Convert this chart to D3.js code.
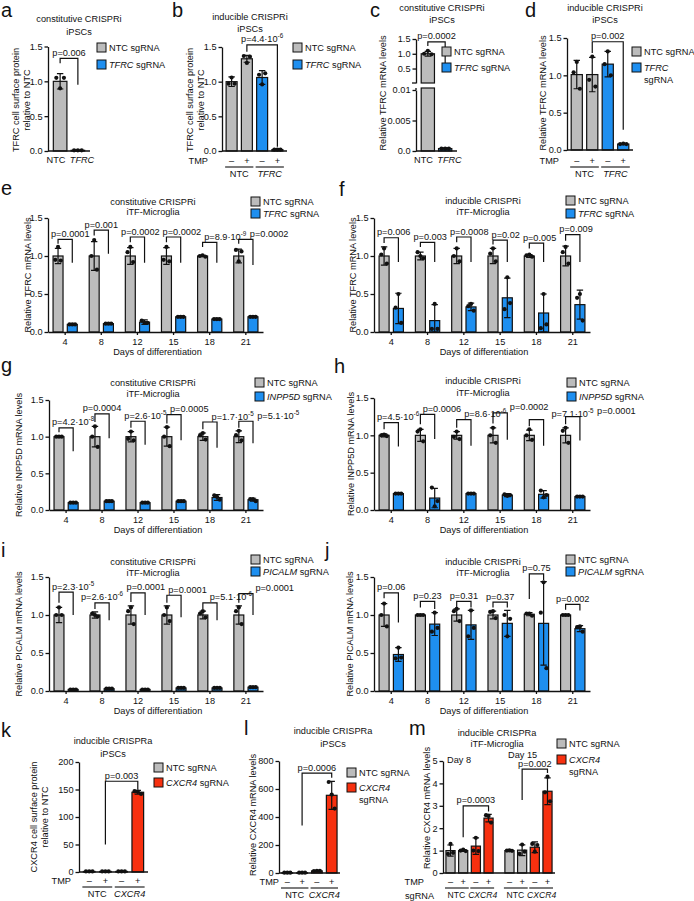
<!DOCTYPE html>
<html><head><meta charset="utf-8">
<script src="https://cdn.jsdelivr.net/npm/d3@7"></script>
<style>body{margin:0;background:#fff}</style>
</head><body>
<script>
// ================= DATA =================
// a: constitutive CRISPRi iPSCs, TFRC surface protein
const aCats = ["NTC", "TFRC"];
const aMean = [1.0, 0.01];
const aSD = [0.11, 0.004];
const aPts = [[1.05, 0.9, 1.05], [0.01, 0.01, 0.01]];
const aP = "0.006";
const aBr = [1.33, 1.26, 0.95];

// b: inducible CRISPRi iPSCs, TFRC surface protein
const tmpStates = ["–", "+", "–", "+"];
const bGroups = ["NTC", "TFRC"];
const bMean = [1.0, 1.33, 1.06, 0.02];
const bSD = [0.07, 0.05, 0.1, 0.005];
const bPts = [[0.97, 1.06, 0.97], [1.37, 1.27, 1.36], [1.1, 0.96, 1.12], [0.02, 0.02, 0.02]];
const bP = "4.4·10^-6";
const bBr = [1.53, 1.43, 0.06];

// c: constitutive CRISPRi iPSCs, TFRC mRNA (broken axis)
const cCats = ["NTC", "TFRC"];
const cMean = [1.0, 0.0004];
const cSD = [0.08, 0.0001];
const cPts = [[1.0, 1.1, 0.98], [0.0004, 0.0004, 0.0004]];
const cP = "0.0002";
const cBr = [1.40, 1.26, 0.45];

// d: inducible CRISPRi iPSCs, TFRC mRNA
const dGroups = ["NTC", "TFRC"];
const dMean = [1.01, 1.01, 1.15, 0.08];
const dSD = [0.19, 0.23, 0.17, 0.006];
const dPts = [[1.04, 1.18, 0.82], [0.94, 1.25, 0.85], [1.15, 1.32, 1.0], [0.08, 0.085, 0.08]];
const dP = "0.002";
const dBr = [1.45, 1.3, 0.27];

// e-j: days of differentiation
const days = [4, 8, 12, 15, 18, 21];

const eNTC = [1, 1, 1, 1, 1, 1];
const eNTCsd = [0.1, 0.19, 0.11, 0.11, 0.01, 0.09];
const eNTCpts = [[0.95, 1.12, 0.94], [1.0, 1.21, 0.82], [1.05, 1.12, 0.92], [0.95, 1.12, 0.93], [1.0, 1.01, 0.99], [1.08, 0.93, 1.06]];
const eKD = [0.1, 0.11, 0.13, 0.2, 0.17, 0.2];
const eKDsd = [0.01, 0.01, 0.03, 0.01, 0.01, 0.01];
const eKDpts = [[0.1, 0.1, 0.1], [0.11, 0.11, 0.11], [0.15, 0.12, 0.12], [0.2, 0.2, 0.2], [0.17, 0.17, 0.17], [0.2, 0.2, 0.2]];
const eP = ["0.0001", "0.001", "0.0002", "0.0002", "8.9·10^-9", "0.0002"];
const eBr = [[1.22, 1.16, 0.91], [1.34, 1.27, 1.03], [1.25, 1.18, 0.91], [1.25, 1.18, 0.91], [1.18, 1.12, 0.91], [1.22, 1.16, 0.88]];

const fNTC = [1, 1, 1, 1, 1, 1];
const fNTCsd = [0.12, 0.05, 0.1, 0.1, 0.02, 0.13];
const fNTCpts = [[1.02, 1.1, 0.9], [1.05, 1.0, 0.97], [1.0, 1.1, 0.93], [1.03, 1.1, 0.93], [1.01, 1.02, 0.99], [1.05, 1.12, 0.9]];
const fKD = [0.31, 0.15, 0.33, 0.45, 0.25, 0.36];
const fKDsd = [0.2, 0.21, 0.05, 0.26, 0.25, 0.19];
const fKDpts = [[0.32, 0.5, 0.12], [0.04, 0.37, 0.04], [0.34, 0.37, 0.28], [0.3, 0.72, 0.38], [0.05, 0.5, 0.1], [0.45, 0.5, 0.15]];
const fP = ["0.006", "0.003", "0.0008", "0.02", "0.005", "0.009"];
const fBr = [[1.24, 1.17, 0.92], [1.18, 1.12, 0.92], [1.25, 1.18, 0.92], [1.21, 1.15, 0.92], [1.17, 1.1, 0.92], [1.28, 1.2, 0.92]];

const gNTC = [1, 1, 1, 1, 1, 1];
const gNTCsd = [0.01, 0.14, 0.07, 0.13, 0.05, 0.08];
const gNTCpts = [[1.0, 1.0, 1.0], [1.0, 1.14, 0.86], [0.97, 1.07, 0.95], [1.0, 1.13, 0.87], [1.02, 1.05, 0.96], [1.02, 1.08, 0.95]];
const gKD = [0.1, 0.12, 0.1, 0.12, 0.17, 0.14];
const gKDsd = [0.005, 0.01, 0.01, 0.01, 0.04, 0.02];
const gKDpts = [[0.1, 0.1, 0.1], [0.12, 0.12, 0.12], [0.1, 0.1, 0.1], [0.12, 0.12, 0.12], [0.2, 0.18, 0.14], [0.15, 0.15, 0.12]];
const gP = ["4.2·10^-8", "0.0004", "2.6·10^-5", "0.0005", "1.7·10^-5", "5.1·10^-5"];
const gBr = [[1.12, 1.06, 0.8], [1.31, 1.2, 0.98], [1.21, 1.12, 0.89], [1.3, 1.18, 0.95], [1.2, 1.1, 0.85], [1.21, 1.12, 0.91]];

const hNTC = [1, 1, 1, 1, 1, 1];
const hNTCsd = [0.02, 0.08, 0.05, 0.1, 0.07, 0.1];
const hNTCpts = [[1.0, 1.01, 0.99], [1.05, 1.08, 0.92], [0.98, 1.05, 0.95], [1.0, 1.1, 0.9], [1.0, 1.08, 0.94], [1.06, 1.1, 0.9]];
const hKD = [0.22, 0.16, 0.22, 0.2, 0.21, 0.18];
const hKDsd = [0.01, 0.13, 0.01, 0.02, 0.05, 0.01];
const hKDpts = [[0.22, 0.22, 0.22], [0.3, 0.05, 0.12], [0.22, 0.22, 0.22], [0.21, 0.19, 0.2], [0.26, 0.17, 0.2], [0.18, 0.18, 0.18]];
const hP = ["4.5·10^-6", "0.0006", "8.6·10^-6", "0.0002", "7.1·10^-5", "0.0001"];
const hBr = [[1.17, 1.08, 0.85], [1.28, 1.15, 0.95], [1.21, 1.1, 0.86], [1.3, 1.16, 0.94], [1.21, 1.12, 0.86], [1.25, 1.15, 0.93]];

const iNTC = [1, 1, 1, 1, 1, 1];
const iNTCsd = [0.1, 0.04, 0.12, 0.12, 0.05, 0.12];
const iNTCpts = [[1.0, 1.1, 1.0], [1.02, 1.0, 0.98], [1.05, 1.1, 0.88], [1.0, 1.1, 0.92], [1.02, 1.05, 0.97], [1.05, 1.1, 0.88]];
const iKD = [0.02, 0.03, 0.02, 0.04, 0.04, 0.05];
const iKDsd = [0.005, 0.005, 0.005, 0.005, 0.005, 0.005];
const iKDpts = [[0.02, 0.02, 0.02], [0.03, 0.03, 0.03], [0.02, 0.02, 0.02], [0.04, 0.04, 0.04], [0.04, 0.04, 0.04], [0.05, 0.05, 0.05]];
const iP = ["2.3·10^-5", "2.6·10^-6", "0.0001", "0.0001", "5.1·10^-6", "0.0001"];
const iBr = [[1.3, 1.16, 1.0], [1.16, 1.08, 0.93], [1.29, 1.17, 1.0], [1.26, 1.16, 0.97], [1.16, 1.08, 0.93], [1.28, 1.16, 1.0]];

const jNTC = [1.0, 1.0, 1.0, 1.0, 1.01, 1.0];
const jNTCsd = [0.15, 0.01, 0.08, 0.05, 0.02, 0.01];
const jNTCpts = [[1.0, 1.15, 0.85], [1.0, 1.0, 1.0], [1.05, 1.08, 0.92], [1.04, 1.05, 0.96], [1.02, 1.02, 0.99], [1.0, 1.0, 1.0]];
const jKD = [0.48, 0.88, 0.87, 0.89, 0.89, 0.82];
const jKDsd = [0.09, 0.15, 0.19, 0.17, 0.55, 0.04];
const jKDpts = [[0.43, 0.57, 0.44], [0.78, 1.03, 0.83], [0.72, 1.06, 0.83], [1.0, 0.72, 0.95], [1.03, 1.43, 0.3], [0.84, 0.85, 0.78]];
const jP = ["0.06", "0.23", "0.31", "0.37", "0.75", "0.002"];
const jBr = [[1.29, 1.22, 0.9], [1.18, 1.1, 1.08], [1.18, 1.1, 1.1], [1.17, 1.1, 1.1], [1.54, 1.21, 1.46], [1.14, 1.07, 1.06]];

// k: inducible CRISPRa iPSCs, CXCR4 surface protein
const kGroups = ["NTC", "CXCR4"];
const kMean = [1, 1, 1, 145];
const kSD = [0, 0, 0, 3.5];
const kPts = [[1, 1, 1], [1, 1, 1], [1, 1, 1], [147, 146, 142]];
const kP = "0.003";
const kBr = [165, 50, 150];

// l: inducible CRISPRa iPSCs, CXCR4 mRNA
const lGroups = ["NTC", "CXCR4"];
const lMean = [2, 2, 15, 555];
const lSD = [0.5, 0.5, 3, 100];
const lPts = [[2, 2, 2], [2, 2, 2], [14, 16, 15], [650, 560, 460]];
const lP = "0.0006";
const lBr = [714, 340, 680];

// m: inducible CRISPRa iTF-Microglia, Day 8 / Day 15
const mDays = ["Day 8", "Day 15"];
const mGroups = ["NTC", "CXCR4"];
const mMean = [[1.0, 1.0, 1.2, 2.45], [1.0, 1.02, 1.15, 3.65]];
const mSD = [[0.25, 0.04, 0.37, 0.17], [0.03, 0.24, 0.24, 0.6]];
const mPts = [[[0.85, 1.3, 0.9], [1.0, 1.04, 0.98], [1.0, 1.57, 0.98], [2.58, 2.55, 2.25]],
              [[1.0, 1.01, 0.99], [0.85, 1.27, 0.95], [1.3, 0.95, 1.25], [3.6, 4.3, 3.2]]];
const mP = ["0.0003", "0.002"];
const mBr = [[3.0, 1.6, 2.75], [4.64, 3.26, 4.46]];

// ================= DRAWING =================
const svg = d3.select("body").append("svg").attr("width", 694).attr("height", 901);
svg.append("rect").attr("width", 694).attr("height", 901).attr("fill", "#fff");
const FONT = "'Liberation Sans', Arial, Helvetica, sans-serif";
const FS = 9.2, INK = "#111";
const GRAY = "#bcbcbc", BLUE = "#1e8ff0", RED = "#f7300f";
const OFF = [-0.28, 0, 0.28];

function T(x, y, s, o = {}) {
  const t = svg.append("text").attr("x", x).attr("y", y)
    .attr("font-family", FONT).attr("font-size", o.fs || FS).attr("fill", INK)
    .attr("text-anchor", o.a || "start");
  if (o.it) t.attr("font-style", "italic");
  t.text(s);
  return t;
}
function rich(x, y, parts, a) {
  const t = svg.append("text").attr("x", x).attr("y", y)
    .attr("font-family", FONT).attr("font-size", FS).attr("fill", INK)
    .attr("text-anchor", a || "start");
  parts.forEach(([s, it]) => t.append("tspan").attr("font-style", it ? "italic" : "normal").text(s));
  return t;
}
function letter(ch, x, y) { T(x, y, ch, { fs: 20 }); }
function title(lines, cx, ys) { lines.forEach((s, i) => T(cx, ys[i], s, { a: "middle" })); }
function yLab(lines, xs, cy) {
  lines.forEach((s, i) => {
    svg.append("text").attr("transform", `translate(${xs[i]},${cy}) rotate(-90)`)
      .attr("text-anchor", "middle").attr("font-family", FONT).attr("font-size", FS)
      .attr("fill", INK).text(s);
  });
}
// push apart overlapping texts in a row (shift both halves)
function spreadRow(nodes, gap) {
  for (let it = 0; it < 20; it++) {
    let moved = false;
    for (let i = 0; i < nodes.length - 1; i++) {
      const a = nodes[i].node().getBBox(), b = nodes[i + 1].node().getBBox();
      const ov = a.x + a.width + gap - b.x;
      if (ov > 0.2) {
        nodes[i].attr("x", +nodes[i].attr("x") - ov / 2);
        nodes[i + 1].attr("x", +nodes[i + 1].attr("x") + ov / 2);
        moved = true;
      }
    }
    if (!moved) break;
  }
}
// keep p-labels inside the plot and shift later ones right when they collide
function avoidRight(nodes, gap, minX) {
  const placed = [];
  const tol = 1.5;
  nodes.forEach(n => {
    let b = n.node().getBBox();
    if (b.x < minX) { n.attr("x", +n.attr("x") + (minX - b.x)); b = n.node().getBBox(); }
    for (let it = 0; it < 6; it++) {
      let moved = false;
      placed.forEach(p => {
        const vOv = b.y < p.y + p.height - tol && p.y < b.y + b.height - tol;
        if (vOv && b.x < p.x + p.width + gap && b.x + b.width > p.x) {
          n.attr("x", +n.attr("x") + (p.x + p.width + gap - b.x));
          b = n.node().getBBox();
          moved = true;
        }
      });
      if (!moved) break;
    }
    placed.push(b);
  });
}
function styleAxis(g) {
  g.select(".domain").attr("stroke", INK).attr("stroke-width", 1.3);
  g.selectAll(".tick line").attr("stroke", INK).attr("stroke-width", 1.3);
  g.selectAll(".tick text").attr("font-family", FONT).attr("font-size", FS).attr("fill", INK);
}
function yAxis(sc, x, ticks, fmt) {
  const g = svg.append("g").attr("transform", `translate(${x},0)`)
    .call(d3.axisLeft(sc).tickValues(ticks).tickFormat(fmt).tickSize(3.5).tickSizeOuter(0).tickPadding(2));
  styleAxis(g);
  return g;
}
function hline(x0, x1, y, sw) {
  svg.append("line").attr("x1", x0).attr("x2", x1).attr("y1", y).attr("y2", y)
    .attr("stroke", INK).attr("stroke-width", sw || 1.3);
}
function errDots(sc, cx, w, m, sd, pts) {
  const lo = Math.max(sc.domain()[0], m - sd), hi = m + sd, cw = 3.2;
  svg.append("path")
    .attr("d", `M${cx},${sc(lo)}V${sc(hi)}M${cx - cw},${sc(hi)}H${cx + cw}M${cx - cw},${sc(lo)}H${cx + cw}`)
    .attr("stroke", INK).attr("stroke-width", 1.2).attr("fill", "none");
  pts.forEach((p, i) => svg.append("circle").attr("cx", cx + OFF[i] * w).attr("cy", sc(p)).attr("r", 2.1).attr("fill", INK));
}
function bar(sc, x, w, m, sd, pts, fill) {
  const y0 = sc(sc.domain()[0]);
  svg.append("rect").attr("x", x).attr("y", sc(m)).attr("width", w)
    .attr("height", Math.max(0.5, y0 - sc(m))).attr("fill", fill)
    .attr("stroke", INK).attr("stroke-width", 1.2);
  errDots(sc, x + w / 2, w, m, sd, pts);
}
function pText(x, y, s) {
  const t = svg.append("text").attr("x", x).attr("y", y).attr("text-anchor", "middle")
    .attr("font-family", FONT).attr("font-size", FS).attr("fill", INK);
  const [base, exp] = s.split("^");
  t.append("tspan").text("p=" + base);
  if (exp) t.append("tspan").attr("dy", -4).attr("font-size", 6.3).text(exp);
  return t;
}
function bracket(sc, xl, xr, br, label) {
  const [top, le, re] = br;
  svg.append("path").attr("d", `M${xl},${sc(le)}V${sc(top)}H${xr}V${sc(re)}`)
    .attr("stroke", INK).attr("stroke-width", 1.2).attr("fill", "none");
  return pText((xl + xr) / 2, sc(top) - 2.5, label);
}
function legend(x, ys, items) {
  items.forEach((it, i) => {
    svg.append("rect").attr("x", x).attr("y", ys[i]).attr("width", 9).attr("height", 9)
      .attr("fill", it.fill).attr("stroke", INK).attr("stroke-width", 1);
    it.lines.forEach((ln, j) => rich(x + 12, ys[i] + 8 + j * 11.5, ln));
  });
}
const ntcItem = { fill: GRAY, lines: [[["NTC sgRNA", 0]]] };
const geneItem = (g, col, twoLine) => ({
  fill: col,
  lines: twoLine ? [[[g, 1]], [["sgRNA", 0]]] : [[[g, 1], [" sgRNA", 0]]]
});

// ---------- simple 2-bar panel (a) ----------
(function () {
  letter("a", 1, 17);
  title(["constitutive CRISPRi", "iPSCs"], 79, [22, 35]);
  yLab(["TFRC cell surface protein", "relative to NTC"], [19, 30], 100);
  const y = d3.scaleLinear().domain([0, 1.5]).range([151, 46.5]);
  const x = d3.scaleBand().domain(aCats).range([48, 90]).paddingInner(0.235).paddingOuter(0.3);
  yAxis(y, 48, [0, 0.5, 1, 1.5], d3.format(".1f"));
  const labs = [];
  aCats.forEach((c, i) => {
    bar(y, x(c), x.bandwidth(), aMean[i], aSD[i], aPts[i], i ? BLUE : GRAY);
    labs.push(T(x(c) + x.bandwidth() / 2, 163, c, { a: "middle", it: i === 1 }));
  });
  spreadRow(labs, 4);
  hline(48, 90, 151);
  bracket(y, x(aCats[0]) + x.bandwidth() / 2, x(aCats[1]) + x.bandwidth() / 2, aBr, aP);
  legend(97, [43, 60], [ntcItem, geneItem("TFRC", BLUE)]);
})();

// ---------- TMP 4-bar panels ----------
function tmpPanel(c) {
  const y = d3.scaleLinear().domain(c.dom).range(c.yr);
  yAxis(y, c.x0, c.ticks, c.fmt);
  const glabs = [];
  c.sets.forEach((set, s) => {
    const xb = d3.scaleBand().domain(d3.range(4)).range(set.range).paddingInner(0.28).paddingOuter(set.po);
    const w = xb.bandwidth();
    set.mean.forEach((m, i) => {
      bar(y, xb(i), w, m, set.sd[i], set.pts[i], c.colors[i]);
      T(xb(i) + w / 2, c.tmpY, tmpStates[i], { a: "middle" });
    });
    c.groups.forEach((g, k) => {
      const xa = xb(2 * k) - 1, xe = xb(2 * k + 1) + w + 1;
      hline(xa, xe, c.ulY, 1.1);
      glabs.push(T((xa + xe) / 2, c.glY, g, { a: "middle", it: k === 1, fs: c.gfs }));
    });
    bracket(y, xb(1) + w / 2, xb(3) + w / 2, set.br, set.p);
  });
  spreadRow(glabs, 3);
  hline(c.x0, c.x1, c.yr[0]);
  T(c.tmpX, c.tmpY, "TMP", { a: "end" });
  return y;
}

// b
letter("b", 172, 17);
title(["inducible CRISPRi", "iPSCs"], 250, [20, 32]);
yLab(["TFRC cell surface protein", "relative to NTC"], [193, 204], 100);
tmpPanel({
  x0: 222, x1: 287, yr: [151, 47], dom: [0, 1.5], ticks: [0, 0.5, 1, 1.5], fmt: d3.format(".1f"),
  colors: [GRAY, GRAY, BLUE, BLUE], groups: bGroups, tmpX: 208, tmpY: 164, ulY: 167, glY: 177,
  sets: [{ range: [222, 287], po: 0.27, mean: bMean, sd: bSD, pts: bPts, br: bBr, p: bP }]
});
legend(293, [43, 60], [ntcItem, geneItem("TFRC", BLUE)]);

// c (broken axis)
(function () {
  letter("c", 370, 17);
  title(["constitutive CRISPRi", "iPSCs"], 442, [11, 23]);
  yLab(["Relative TFRC mRNA levels"], [386], 93);
  const lo = d3.scaleLinear().domain([0, 0.01]).range([151, 90]);
  const hi = d3.scaleLinear().domain([0.01, 1.5]).range([83, 39]);
  yAxis(lo, 416, [0, 0.005, 0.01], d => d === 0 ? "0.0" : String(d));
  yAxis(hi, 416, [0.5, 1.0, 1.5], d3.format(".1f"));
  svg.append("line").attr("x1", 416).attr("x2", 416).attr("y1", 90).attr("y2", 88).attr("stroke", INK).attr("stroke-width", 1.3);
  hline(412, 416, 83);
  const x = d3.scaleBand().domain(cCats).range([416, 457]).paddingInner(0.235).paddingOuter(0.3);
  const w = x.bandwidth();
  svg.append("rect").attr("x", x("NTC")).attr("y", 88).attr("width", w).attr("height", 151 - 88)
    .attr("fill", GRAY).attr("stroke", INK).attr("stroke-width", 1.2);
  svg.append("rect").attr("x", x("NTC")).attr("y", hi(cMean[0])).attr("width", w).attr("height", 83 - hi(cMean[0]))
    .attr("fill", GRAY).attr("stroke", INK).attr("stroke-width", 1.2);
  errDots(hi, x("NTC") + w / 2, w, cMean[0], cSD[0], cPts[0]);
  bar(lo, x("TFRC"), w, cMean[1], cSD[1], cPts[1], BLUE);
  hline(416, 457, 151);
  const labs = cCats.map((c, i) => T(x(c) + w / 2, 163, c, { a: "middle", it: i === 1 }));
  spreadRow(labs, 4);
  bracket(hi, x("NTC") + w / 2, x("TFRC") + w / 2, cBr, cP);
  legend(442, [47, 63], [ntcItem, geneItem("TFRC", BLUE)]);
})();

// d
letter("d", 525, 17);
title(["inducible CRISPRi", "iPSCs"], 605, [11, 23]);
yLab(["Relative TFRC mRNA levels"], [546], 93);
tmpPanel({
  x0: 567, x1: 633, yr: [150, 38], dom: [0, 1.5], ticks: [0, 0.5, 1, 1.5], fmt: d3.format(".1f"),
  colors: [GRAY, GRAY, BLUE, BLUE], groups: dGroups, tmpX: 559, tmpY: 164, ulY: 167, glY: 177,
  sets: [{ range: [567, 633], po: 0.27, mean: dMean, sd: dSD, pts: dPts, br: dBr, p: dP }]
});
legend(632, [47, 63], [ntcItem, geneItem("TFRC", BLUE, true)]);

// ---------- grouped day panels ----------
function grouped(c) {
  const y = d3.scaleLinear().domain([0, 1.5]).range(c.yr);
  const xo = d3.scaleBand().domain(days).range([c.x0, c.x1]).paddingInner(0.33).paddingOuter(0.14);
  const xi = d3.scaleBand().domain([0, 1]).range([0, xo.bandwidth()]).paddingInner(0.3);
  const w = xi.bandwidth();
  yAxis(y, c.x0, [0, 0.5, 1, 1.5], d3.format(".1f"));
  const plabs = [];
  days.forEach((d, k) => {
    const xN = xo(d) + xi(0), xK = xo(d) + xi(1);
    bar(y, xN, w, c.ntc[k], c.ntcSD[k], c.ntcPts[k], GRAY);
    bar(y, xK, w, c.kd[k], c.kdSD[k], c.kdPts[k], BLUE);
    plabs.push(bracket(y, xN + w / 2, xK + w / 2, c.br[k], c.p[k]));
  });
  avoidRight(plabs, 3, c.x0 + 3);
  const gx = svg.append("g").attr("transform", `translate(0,${c.yr[0]})`)
    .call(d3.axisBottom(xo).tickSize(3).tickSizeOuter(0).tickPadding(3));
  styleAxis(gx);
  T((c.x0 + c.x1) / 2 + 2, c.yr[0] + 23, "Days of differentiation", { a: "middle" });
  letter(c.letter[0], c.letter[1], c.letter[2]);
  title(c.title, c.tx, c.ty);
  yLab([c.ylab], [c.ylx], (c.yr[0] + c.yr[1]) / 2);
  legend(c.lx, c.ly, [ntcItem, geneItem(c.gene, BLUE)]);
}

grouped({ letter: ["e", 1, 195], title: ["constitutive CRISPRi", "iTF-Microglia"], tx: 153, ty: [205, 215],
  ylab: "Relative TFRC mRNA levels", ylx: 31, x0: 48, x1: 263, yr: [332, 218],
  ntc: eNTC, ntcSD: eNTCsd, ntcPts: eNTCpts, kd: eKD, kdSD: eKDsd, kdPts: eKDpts, p: eP, br: eBr,
  gene: "TFRC", lx: 251, ly: [197, 209] });
grouped({ letter: ["f", 339, 196], title: ["inducible CRISPRi", "iTF-Microglia"], tx: 483, ty: [204, 215],
  ylab: "Relative TFRC mRNA levels", ylx: 356, x0: 374, x1: 590, yr: [332, 218],
  ntc: fNTC, ntcSD: fNTCsd, ntcPts: fNTCpts, kd: fKD, kdSD: fKDsd, kdPts: fKDpts, p: fP, br: fBr,
  gene: "TFRC", lx: 566, ly: [196, 209] });
grouped({ letter: ["g", 1, 372], title: ["constitutive CRISPRi", "iTF-Microglia"], tx: 153, ty: [386, 397],
  ylab: "Relative INPP5D mRNA levels", ylx: 22, x0: 49, x1: 263, yr: [510, 400],
  ntc: gNTC, ntcSD: gNTCsd, ntcPts: gNTCpts, kd: gKD, kdSD: gKDsd, kdPts: gKDpts, p: gP, br: gBr,
  gene: "INPP5D", lx: 255, ly: [378, 392] });
grouped({ letter: ["h", 334, 373], title: ["inducible CRISPRi", "iTF-Microglia"], tx: 483, ty: [384, 396],
  ylab: "Relative INPP5D mRNA levels", ylx: 354, x0: 374, x1: 590, yr: [510, 398],
  ntc: hNTC, ntcSD: hNTCsd, ntcPts: hNTCpts, kd: hKD, kdSD: hKDsd, kdPts: hKDpts, p: hP, br: hBr,
  gene: "INPP5D", lx: 567, ly: [378, 392] });
grouped({ letter: ["i", 1, 557], title: ["constitutive CRISPRi", "iTF-Microglia"], tx: 153, ty: [565, 576],
  ylab: "Relative PICALM mRNA levels", ylx: 22, x0: 49, x1: 263, yr: [691, 577],
  ntc: iNTC, ntcSD: iNTCsd, ntcPts: iNTCpts, kd: iKD, kdSD: iKDsd, kdPts: iKDpts, p: iP, br: iBr,
  gene: "PICALM", lx: 251, ly: [555, 567] });
grouped({ letter: ["j", 325, 557], title: ["inducible CRISPRi", "iTF-Microglia"], tx: 483, ty: [565, 576],
  ylab: "Relative PICALM mRNA levels", ylx: 353, x0: 374, x1: 590, yr: [691, 577],
  ntc: jNTC, ntcSD: jNTCsd, ntcPts: jNTCpts, kd: jKD, kdSD: jKDsd, kdPts: jKDpts, p: jP, br: jBr,
  gene: "PICALM", lx: 566, ly: [555, 567] });

// k
letter("k", 1, 737);
title(["inducible CRISPRa", "iPSCs"], 113, [744, 757]);
yLab(["CXCR4  cell surface protein", "relative to NTC"], [37, 48], 817);
tmpPanel({
  x0: 79, x1: 148, yr: [872, 762], dom: [0, 200], ticks: [0, 50, 100, 150, 200], fmt: d3.format("d"),
  colors: [GRAY, GRAY, RED, RED], groups: kGroups, tmpX: 71, tmpY: 884, ulY: 887, glY: 897,
  sets: [{ range: [79, 148], po: 0.27, mean: kMean, sd: kSD, pts: kPts, br: kBr, p: kP }]
});
legend(154, [763, 778], [ntcItem, geneItem("CXCR4", RED)]);

// l
letter("l", 244, 735);
title(["inducible CRISPRa", "iPSCs"], 333, [734, 747]);
yLab(["Relative CXCR4 mRNA levels"], [256], 815);
tmpPanel({
  x0: 279, x1: 340, yr: [873, 761], dom: [0, 800], ticks: [0, 200, 400, 600, 800], fmt: d3.format("d"),
  colors: [GRAY, GRAY, RED, RED], groups: lGroups, tmpX: 279, tmpY: 885, ulY: 888, glY: 898,
  sets: [{ range: [279, 340], po: 0.2, mean: lMean, sd: lSD, pts: lPts, br: lBr, p: lP }]
});
legend(347, [768, 783], [ntcItem, geneItem("CXCR4", RED, true)]);

// m
(function () {
  letter("m", 409, 735);
  title(["inducible CRISPRa", "iTF-Microglia"], 497, [736, 747]);
  yLab(["Relative CXCR4 mRNA levels"], [430], 808);
  const xo = d3.scaleBand().domain(mDays).range([443, 555]).paddingInner(0.2).paddingOuter(0.05);
  tmpPanel({
    x0: 443, x1: 555, yr: [873, 761], dom: [0, 5], ticks: [0, 1, 2, 3, 4, 5], fmt: d3.format("d"),
    colors: [GRAY, GRAY, RED, RED], groups: mGroups, tmpX: 424, tmpY: 885, ulY: 888, glY: 898, gfs: 8.6,
    sets: mDays.map((d, i) => ({ range: [xo(d), xo(d) + xo.bandwidth()], po: 0, mean: mMean[i], sd: mSD[i], pts: mPts[i], br: mBr[i], p: mP[i] }))
  });
  T(405, 899, "sgRNA");
  T(447, 763, mDays[0]);
  T(508, 758, mDays[1]);
  legend(557, [739, 755], [ntcItem, geneItem("CXCR4", RED, true)]);
})();
</script>
</body></html>
